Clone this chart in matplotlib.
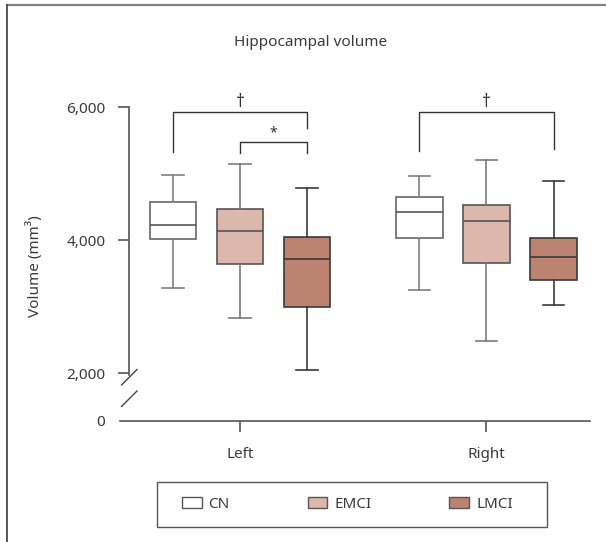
import numpy as np
import matplotlib
matplotlib.use("Agg")
import matplotlib.pyplot as plt
from matplotlib.lines import Line2D
from matplotlib.patches import Patch, Rectangle

plt.rcParams['font.family'] = ['Noto Sans', 'DejaVu Sans']

# data (mm3)
groups = ["Left", "Right"]
series = ["CN", "EMCI", "LMCI"]
whislo = {"CN": [3290, 3250], "EMCI": [2835, 2485], "LMCI": [2050, 3030]}
q1 = {"CN": [4025, 4030], "EMCI": [3650, 3665], "LMCI": [2990, 3405]}
med = {"CN": [4225, 4430], "EMCI": [4135, 4290], "LMCI": [3715, 3745]}
q3 = {"CN": [4580, 4645], "EMCI": [4465, 4530], "LMCI": [4045, 4040]}
whishi = {"CN": [4980, 4960], "EMCI": [5145, 5205], "LMCI": [4780, 4890]}
yticks = [0, 2000, 4000, 6000]
ytick_labels = ["0", "2,000", "4,000", "6,000"]

fills = {"CN": "#ffffff", "EMCI": "#dbb8ab", "LMCI": "#bd8371"}
edges = {"CN": "#666666", "EMCI": "#555555", "LMCI": "#3a3a3a"}
whisk = {"CN": "#808080", "EMCI": "#7a7a7a", "LMCI": "#3a3a3a"}
meds = {"CN": "#555555", "EMCI": "#555555", "LMCI": "#3a3a3a"}
txt = "#3a3a3a"

offset = 0.272
width = 0.19

# broken y axis: compress everything below 2000
BREAK = 2000
SQ = 0.356


def fwd(v):
    v = np.asarray(v, dtype=float)
    return np.where(v >= BREAK, v, BREAK - (BREAK - v) * SQ)


def inv(u):
    u = np.asarray(u, dtype=float)
    return np.where(u >= BREAK, u, BREAK - (BREAK - u) / SQ)


W, H = 606, 542
fig = plt.figure(figsize=(W / 100, H / 100), dpi=100)
ax = fig.add_axes([120 / W, (H - 420.7) / H, 470 / W, 313.4 / H])
ax.set_yscale('function', functions=(fwd, inv))

for k, s in enumerate(series):
    stats = []
    pos = []
    for g in range(len(groups)):
        stats.append(dict(whislo=whislo[s][g], q1=q1[s][g], med=med[s][g],
                          q3=q3[s][g], whishi=whishi[s][g], fliers=[]))
        pos.append(g + (k - 1) * offset)
    ax.bxp(stats, positions=pos, widths=width, capwidths=width * 0.46,
           patch_artist=True, showfliers=False, manage_ticks=False,
           boxprops=dict(facecolor=fills[s], edgecolor=edges[s], linewidth=1.2),
           whiskerprops=dict(color=whisk[s], linewidth=1.2),
           capprops=dict(color=whisk[s], linewidth=1.2),
           medianprops=dict(color=meds[s], linewidth=1.2))

ax.set_xlim(-0.4868, 1.42)
ax.set_ylim(0, 6000)


# significance brackets
def bracket(x1, x2, top, y1, y2, mark, my, fs):
    ax.plot([x1, x1, x2, x2], [y1, top, top, y2], color="#333333", lw=1.0,
            clip_on=False)
    ax.text((x1 + x2) / 2, my, mark, ha="center", va="center", fontsize=fs,
            color="#333333")

bracket(-offset, offset, 5925, 5330, 5695, "\u2020", 6085, 12.5)
bracket(0, offset, 5485, 5310, 5310, "*", 5620, 10)
bracket(1 - offset, 1 + offset, 5935, 5340, 5375, "\u2020", 6085, 12.5)

# axes styling
for sp in ["top", "right"]:
    ax.spines[sp].set_visible(False)
ax.spines["left"].set_position(("axes", 9 / 470))
ax.spines["left"].set_bounds(1940, 6000)
for sp in ["left", "bottom"]:
    ax.spines[sp].set_color("#555555")
    ax.spines[sp].set_linewidth(1.2)

ax.set_yticks(yticks)
ax.set_yticklabels(ytick_labels)
ax.set_xticks(range(len(groups)))
ax.set_xticklabels(groups)
ax.tick_params(axis="y", length=8, width=1.2, color="#555555", pad=9,
               labelsize=11, labelcolor=txt)
ax.tick_params(axis="x", length=8, width=1.2, color="#555555", pad=11,
               labelsize=11, labelcolor=txt)
# the x axis line already runs to the 0 label
ax.yaxis.get_major_ticks()[0].tick1line.set_visible(False)

# break marks
for y0 in [377.5, 399]:
    fig.add_artist(Line2D([(129 - 7.5) / W, (129 + 8) / W],
                          [(H - (y0 + 7.5)) / H, (H - (y0 - 8)) / H],
                          color="#444444", lw=1.0))

ax.set_ylabel("Volume (mm\u00b3)", fontsize=11, color=txt)
ax.yaxis.set_label_coords(-(120 - 43) / 470, (420.7 - 266.5) / 313.4)

fig.text(311 / W, 1 - 42 / H, "Hippocampal volume", ha="center", va="center",
         fontsize=11, color=txt)

# legend (entries without frame, frame drawn as a box of its own)
handles = [Patch(facecolor=fills[s], edgecolor="#555555", linewidth=1.0, label=s)
           for s in series]
leg = fig.legend(handles=handles, loc="center left", ncol=3,
                 bbox_to_anchor=(181.7 / W, 1 - 504.5 / H), frameon=False,
                 fontsize=11, handlelength=1.3, handleheight=0.75,
                 handletextpad=0.45, columnspacing=5.1, borderpad=0,
                 borderaxespad=0, labelcolor=txt)
fig.add_artist(Rectangle((157 / W, 1 - 527 / H), 390 / W, 45 / H,
                         transform=fig.transFigure, fill=False,
                         edgecolor="#555555", lw=1.0))

# outer frame (top and left only)
fig.add_artist(Line2D([6.5 / W, 1], [1 - 5 / H, 1 - 5 / H], color="#808080", lw=1.6))
fig.add_artist(Line2D([6.5 / W, 6.5 / W], [0, 1 - 5 / H], color="#555555", lw=1.4))

fig.savefig("out.png", dpi=100)
